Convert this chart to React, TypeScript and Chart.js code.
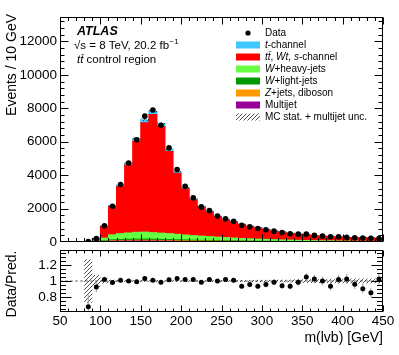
import React, { useEffect, useRef } from "react";
import { Chart, registerables } from "chart.js";

Chart.register(...registerables);

// ---- data (bin centres of 10 GeV bins) ----
const binCenters = [85, 95, 105, 115, 125, 135, 145, 155, 165, 175, 185, 195, 205, 215, 225, 235, 245, 255, 265, 275, 285, 295, 305, 315, 325, 335, 345, 355, 365, 375, 385, 395, 405, 415, 425, 435, 445];
const dataCounts = [20, 200, 975, 2140, 3440, 4720, 6120, 7530, 7900, 6980, 5640, 4340, 3330, 2640, 2100, 1880, 1550, 1390, 1235, 1000, 905, 805, 730, 650, 570, 494, 470, 470, 394, 353, 317, 317, 276, 258, 235, 217, 200];
const multijet = [2, 10, 25, 45, 52, 55, 58, 58, 55, 52, 48, 44, 40, 36, 33, 30, 27, 24, 22, 19, 17, 15, 14, 13, 11, 10, 9, 8, 7, 7, 6, 5, 5, 4, 4, 4, 3];
const zJetsDiboson = [1, 5, 18, 32, 38, 41, 44, 45, 43, 40, 38, 35, 32, 29, 27, 25, 22, 20, 18, 16, 15, 13, 12, 11, 10, 9, 8, 7, 6, 6, 5, 5, 4, 4, 3, 3, 3];
const wLightJets = [2, 8, 30, 55, 62, 66, 70, 72, 68, 64, 60, 56, 51, 46, 42, 39, 35, 31, 28, 25, 23, 21, 19, 17, 15, 13, 12, 11, 10, 9, 8, 7, 7, 6, 5, 5, 4];
const wHeavyJets = [5, 37, 157, 298, 348, 378, 408, 415, 394, 374, 354, 325, 297, 269, 248, 226, 206, 185, 167, 150, 135, 121, 110, 99, 89, 80, 71, 64, 59, 52, 48, 43, 39, 36, 33, 29, 27];
const ttbarWtS = [19, 151, 702, 1699, 2821, 4062, 5447, 6538, 7066, 6379, 4918, 3649, 2763, 2143, 1729, 1477, 1221, 1069, 957, 833, 734, 669, 590, 503, 466, 403, 365, 347, 292, 270, 264, 243, 207, 212, 209, 207, 153];
const tChannel = [1, 5, 24, 55, 85, 118, 155, 183, 196, 177, 139, 105, 82, 65, 53, 46, 39, 34, 31, 27, 24, 22, 19, 17, 15, 13, 12, 11, 10, 9, 8, 8, 7, 7, 6, 6, 5];
const mcRelUnc = [0.27, 0.075, 0.03, 0.015, 0.012, 0.01, 0.01, 0.01, 0.01, 0.01, 0.01, 0.01, 0.01, 0.011, 0.011, 0.011, 0.012, 0.012, 0.012, 0.013, 0.013, 0.014, 0.014, 0.015, 0.016, 0.017, 0.022, 0.024, 0.025, 0.026, 0.027, 0.028, 0.028, 0.03, 0.03, 0.03, 0.03];
const ratioValues = [0.68, 0.925, 1.02, 0.98, 1.01, 1.0, 0.99, 1.03, 1.01, 0.985, 1.015, 1.03, 1.02, 1.02, 0.985, 1.02, 1.0, 1.02, 1.01, 0.935, 0.955, 0.935, 0.955, 0.985, 0.94, 0.935, 0.985, 1.05, 1.025, 1.0, 0.935, 1.02, 1.025, 0.96, 0.905, 0.855, 1.025];
const ratioErrors = [0.15, 0.065, 0.033, 0.021, 0.017, 0.015, 0.013, 0.012, 0.011, 0.012, 0.014, 0.016, 0.018, 0.02, 0.022, 0.024, 0.025, 0.027, 0.029, 0.03, 0.032, 0.033, 0.035, 0.039, 0.039, 0.042, 0.045, 0.048, 0.052, 0.053, 0.052, 0.057, 0.062, 0.06, 0.059, 0.058, 0.072];

const mainYTicks = [0, 2000, 4000, 6000, 8000, 10000, 12000];
const xTickLabels = [50, 100, 150, 200, 250, 300, 350, 400, 450];
const ratioYTicks = [0.8, 1, 1.2];

const X_MIN = 50;
const X_MAX = 450;
const Y_MAX = 13460;
const R_MIN = 0.615;
const R_MAX = 1.385;

const COLORS = {
  tChannel: "#3fc8ff",
  ttbar: "#ff0000",
  wHeavy: "#66ff44",
  wLight: "#009900",
  zJets: "#ff9900",
  multijet: "#990099",
};

const FONT = "'Liberation Sans', Arial, Helvetica, sans-serif";

// canvas placement on the page
const MAIN_H = 256;
const RATIO_TOP = 238;
const RATIO_H = 355 - RATIO_TOP;

type Seg = [string, boolean];

function drawRich(ctx: CanvasRenderingContext2D, segs: Seg[], x: number, y: number, size: number, bold = false) {
  let cx = x;
  for (const [t, it] of segs) {
    ctx.font = `${it ? "italic " : ""}${bold ? "bold " : ""}${size}px ${FONT}`;
    ctx.fillText(t, cx, y);
    cx += ctx.measureText(t).width;
  }
  return cx;
}

function hatchPattern(ctx: CanvasRenderingContext2D) {
  const c = document.createElement("canvas");
  c.width = 4;
  c.height = 4;
  const g = c.getContext("2d")!;
  g.strokeStyle = "#222";
  g.lineWidth = 0.8;
  g.beginPath();
  g.moveTo(0, 4);
  g.lineTo(4, 0);
  g.moveTo(-1, 1);
  g.lineTo(1, -1);
  g.moveTo(3, 5);
  g.lineTo(5, 3);
  g.stroke();
  return ctx.createPattern(c, "repeat")!;
}

function framePlugin(id: string, cfg: any) {
  return {
    id,
    afterDraw(chart: any) {
      const { ctx, chartArea: a } = chart;
      const xs = chart.scales.x;
      const ys = chart.scales.y;
      ctx.save();
      ctx.strokeStyle = "#000";
      ctx.lineWidth = 1;
      const L = Math.round(a.left) + 0.5;
      const R = Math.round(a.right) - 0.5;
      const T = Math.round(a.top) + 0.5;
      const B = Math.round(a.bottom) - 0.5;
      ctx.beginPath();
      for (let k = 5; k <= 45; k++) {
        const px = Math.round(xs.getPixelForValue(k * 10)) + 0.5;
        const len = k % 5 === 0 ? cfg.xMajor : cfg.xMinor;
        ctx.moveTo(px, B);
        ctx.lineTo(px, B - len);
        ctx.moveTo(px, T);
        ctx.lineTo(px, T + len);
      }
      for (const [v, major] of cfg.yTicks as [number, boolean][]) {
        const py = Math.round(ys.getPixelForValue(v)) + 0.5;
        if (py < T || py > B) continue;
        const len = major ? cfg.yMajor : cfg.yMinor;
        ctx.moveTo(L, py);
        ctx.lineTo(L + len, py);
        ctx.moveTo(R, py);
        ctx.lineTo(R - len, py);
      }
      ctx.stroke();
      ctx.strokeRect(L, T, R - L, B - T);
      if (cfg.extra) cfg.extra(chart, ctx);
      ctx.restore();
    },
  };
}

export default function App() {
  const mainRef = useRef<HTMLCanvasElement>(null);
  const ratioRef = useRef<HTMLCanvasElement>(null);

  useEffect(() => {
    const mc = mainRef.current!;
    const rc = ratioRef.current!;
    const mctx = mc.getContext("2d")!;
    const rctx = rc.getContext("2d")!;
    const hatchM = hatchPattern(mctx);
    const hatchR = hatchPattern(rctx);

    const total = binCenters.map(
      (_, i) => multijet[i] + zJetsDiboson[i] + wLightJets[i] + wHeavyJets[i] + ttbarWtS[i] + tChannel[i]
    );

    const stack = [
      { label: "Multijet", values: multijet, color: COLORS.multijet },
      { label: "Z+jets, diboson", values: zJetsDiboson, color: COLORS.zJets },
      { label: "W+light-jets", values: wLightJets, color: COLORS.wLight },
      { label: "W+heavy-jets", values: wHeavyJets, color: COLORS.wHeavy },
      { label: "tt, Wt, s-channel", values: ttbarWtS, color: COLORS.ttbar },
      { label: "t-channel", values: tChannel, color: COLORS.tChannel },
    ];

    const tickFont = { family: FONT, size: 13.5 };

    const mainYMinor: [number, boolean][] = [];
    for (let k = 0; k * 400 <= Y_MAX; k++) mainYMinor.push([k * 400, k % 5 === 0]);
    const ratioYMinor: [number, boolean][] = [];
    for (let k = 12; k <= 28; k++) ratioYMinor.push([k * 0.05, k % 4 === 0]);

    const legendRows: { segs: Seg[]; kind: string; color?: string }[] = [
      { segs: [["Data", false]], kind: "point" },
      { segs: [["t", true], ["-channel", false]], kind: "box", color: COLORS.tChannel },
      { segs: [["tt\u0304", true], [", ", false], ["Wt", true], [", ", false], ["s", true], ["-channel", false]], kind: "box", color: COLORS.ttbar },
      { segs: [["W", true], ["+heavy-jets", false]], kind: "box", color: COLORS.wHeavy },
      { segs: [["W", true], ["+light-jets", false]], kind: "box", color: COLORS.wLight },
      { segs: [["Z", true], ["+jets, diboson", false]], kind: "box", color: COLORS.zJets },
      { segs: [["Multijet", false]], kind: "box", color: COLORS.multijet },
      { segs: [["MC stat. + multijet unc.", false]], kind: "hatch" },
    ];

    const mainExtra = (chart: any, ctx: CanvasRenderingContext2D) => {
      ctx.fillStyle = "#000";
      ctx.textBaseline = "middle";
      ctx.textAlign = "left";
      // ATLAS label
      drawRich(ctx, [["ATLAS", true]], 77, 32, 12.5, true);
      const endX = drawRich(ctx, [["\u221As = 8 TeV, 20.2 fb", false]], 74, 45.5, 11.5);
      ctx.font = `8px ${FONT}`;
      ctx.fillText("\u22121", endX + 0.5, 41.5);
      drawRich(ctx, [["tt\u0304", true], [" control region", false]], 77, 60, 11.5);

      // legend
      legendRows.forEach((row, i) => {
        const y = 33 + i * 12;
        if (row.kind === "point") {
          ctx.beginPath();
          ctx.arc(248, y, 2.6, 0, Math.PI * 2);
          ctx.fillStyle = "#000";
          ctx.fill();
        } else if (row.kind === "box") {
          ctx.fillStyle = row.color!;
          ctx.fillRect(236, y - 3.5, 24, 7);
        } else {
          ctx.fillStyle = hatchM;
          ctx.fillRect(236, y - 3.5, 24, 7);
        }
        ctx.fillStyle = "#000";
        drawRich(ctx, row.segs, 265, y, 10);
      });

      // y title
      ctx.save();
      ctx.translate(12.5, 14);
      ctx.rotate(-Math.PI / 2);
      ctx.textAlign = "right";
      ctx.textBaseline = "middle";
      ctx.font = `14px ${FONT}`;
      ctx.fillText("Events / 10 GeV", 0, 0);
      ctx.restore();
    };

    const ratioExtra = (chart: any, ctx: CanvasRenderingContext2D) => {
      ctx.fillStyle = "#000";
      ctx.save();
      ctx.translate(12.5, 284 - RATIO_TOP);
      ctx.rotate(-Math.PI / 2);
      ctx.textAlign = "center";
      ctx.textBaseline = "middle";
      ctx.font = `14px ${FONT}`;
      ctx.fillText("Data/Pred.", 0, 0);
      ctx.restore();
      ctx.textAlign = "right";
      ctx.textBaseline = "middle";
      ctx.font = `14px ${FONT}`;
      ctx.fillText("m(lvb) [GeV]", 383, 338 - RATIO_TOP);
    };

    const main = new Chart(mc, {
      type: "bar",
      data: {
        datasets: [
          ...stack.map((s) => ({
            type: "bar" as const,
            label: s.label,
            data: binCenters.map((x, i) => ({ x, y: s.values[i] })),
            backgroundColor: s.color,
            borderWidth: 0,
            barPercentage: 1,
            categoryPercentage: 1,
            inflateAmount: 0.5,
            xAxisID: "x",
            yAxisID: "y",
            order: 2,
          })),
          {
            type: "bar" as const,
            label: "MC stat. + multijet unc.",
            data: binCenters.map((x, i) => ({ x, y: [total[i] * (1 - mcRelUnc[i]), total[i] * (1 + mcRelUnc[i])] })),
            backgroundColor: hatchM,
            borderWidth: 0,
            barPercentage: 1,
            categoryPercentage: 1,
            grouped: false,
            inflateAmount: 0,
            xAxisID: "x",
            yAxisID: "yu",
            order: 1,
          },
          {
            type: "scatter" as const,
            label: "Data",
            data: binCenters.map((x, i) => ({ x, y: dataCounts[i] })),
            pointRadius: 2.8,
            pointBackgroundColor: "#000",
            pointBorderWidth: 0,
            xAxisID: "x",
            yAxisID: "yd",
            order: 0,
          },
        ] as any,
      },
      options: {
        responsive: false,
        animation: false,
        devicePixelRatio: 1,
        events: [],
        layout: { padding: { left: 0, right: 16, top: 17, bottom: MAIN_H - 242 } },
        plugins: { legend: { display: false }, tooltip: { enabled: false } },
        scales: {
          x: { type: "linear", min: X_MIN, max: X_MAX, stacked: true, offset: false, display: false },
          y: {
            stacked: true,
            min: 0,
            max: Y_MAX,
            afterFit: (s: any) => {
              s.width = 60;
            },
            afterBuildTicks: (s: any) => {
              s.ticks = mainYTicks.map((v) => ({ value: v }));
            },
            ticks: { callback: (v: any) => String(v), font: tickFont, color: "#000", padding: 3 },
            grid: { display: false, drawTicks: false },
            border: { display: false },
          },
          yu: { display: false, min: 0, max: Y_MAX },
          yd: { display: false, min: 0, max: Y_MAX },
        } as any,
      },
      plugins: [framePlugin("mainFrame", { xMajor: 7, xMinor: 3.5, yMajor: 8, yMinor: 4, yTicks: mainYMinor, extra: mainExtra })],
    });

    const ratio = new Chart(rc, {
      type: "bar",
      data: {
        datasets: [
          {
            type: "line" as const,
            label: "unity",
            data: [
              { x: X_MIN, y: 1 },
              { x: X_MAX, y: 1 },
            ],
            borderColor: "#777",
            borderWidth: 1,
            borderDash: [3, 2],
            pointRadius: 0,
            order: 3,
          },
          {
            type: "bar" as const,
            label: "unc",
            data: binCenters.map((x, i) => ({ x, y: [1 - mcRelUnc[i], 1 + mcRelUnc[i]] })),
            backgroundColor: hatchR,
            borderWidth: 0,
            barPercentage: 1,
            categoryPercentage: 1,
            grouped: false,
            inflateAmount: 0,
            order: 2,
          },
          {
            type: "bar" as const,
            label: "err",
            data: binCenters.map((x, i) => ({ x, y: [ratioValues[i] - ratioErrors[i], ratioValues[i] + ratioErrors[i]] })),
            backgroundColor: "#a0a0a0",
            borderWidth: 0,
            barPercentage: 1,
            categoryPercentage: 1,
            grouped: false,
            maxBarThickness: 1,
            inflateAmount: 0,
            order: 1,
          },
          {
            type: "scatter" as const,
            label: "Data/Pred.",
            data: binCenters.map((x, i) => ({ x, y: ratioValues[i] })),
            pointRadius: 2.5,
            pointBackgroundColor: "#000",
            pointBorderWidth: 0,
            order: 0,
          },
        ] as any,
      },
      options: {
        responsive: false,
        animation: false,
        devicePixelRatio: 1,
        events: [],
        layout: { padding: { left: 0, right: 16, top: 250 - RATIO_TOP, bottom: 0 } },
        plugins: { legend: { display: false }, tooltip: { enabled: false } },
        scales: {
          x: {
            type: "linear",
            min: X_MIN,
            max: X_MAX,
            offset: false,
            afterFit: (s: any) => {
              s.height = 355 - 312;
            },
            afterBuildTicks: (s: any) => {
              s.ticks = xTickLabels.map((v) => ({ value: v }));
            },
            ticks: { callback: (v: any) => String(v), font: tickFont, color: "#000", padding: 1, maxRotation: 0, autoSkip: false },
            grid: { display: false, drawTicks: false },
            border: { display: false },
          },
          y: {
            min: R_MIN,
            max: R_MAX,
            afterFit: (s: any) => {
              s.width = 60;
            },
            afterBuildTicks: (s: any) => {
              s.ticks = ratioYTicks.map((v) => ({ value: v }));
            },
            ticks: {
              callback: (v: any) => (Number(v) === 1 ? "1" : Number(v).toFixed(1)),
              font: tickFont,
              color: "#000",
              padding: 3,
            },
            grid: { display: false, drawTicks: false },
            border: { display: false },
          },
        } as any,
      },
      plugins: [framePlugin("ratioFrame", { xMajor: 6, xMinor: 3, yMajor: 11, yMinor: 5.5, yTicks: ratioYMinor, extra: ratioExtra })],
    });

    return () => {
      main.destroy();
      ratio.destroy();
    };
  }, []);

  return (
    <div style={{ position: "fixed", left: 0, top: 0, width: 399, height: 355, background: "#fff" }}>
      <canvas ref={mainRef} width={399} height={MAIN_H} style={{ position: "absolute", left: 0, top: 0, width: 399, height: MAIN_H }} />
      <canvas ref={ratioRef} width={399} height={RATIO_H} style={{ position: "absolute", left: 0, top: RATIO_TOP, width: 399, height: RATIO_H }} />
    </div>
  );
}
